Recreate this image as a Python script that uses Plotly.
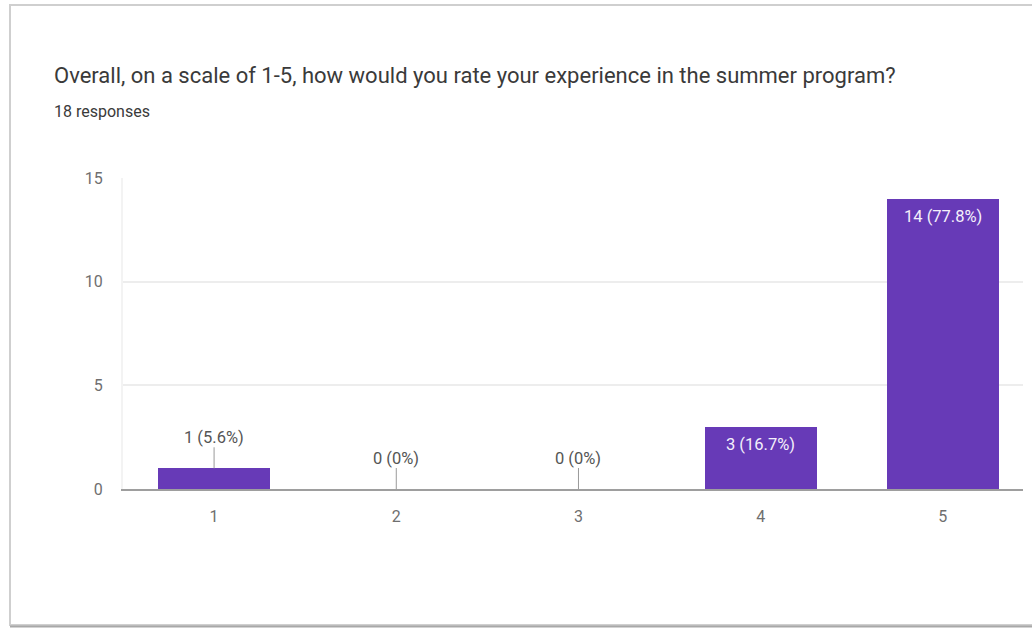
import plotly.graph_objects as go

# Survey question and responses
question = "Overall, on a scale of 1-5, how would you rate your experience in the summer program?"
ratings = [1, 2, 3, 4, 5]
counts = [1, 0, 0, 3, 14]
total = sum(counts)
y_ticks = [0, 5, 10, 15]

W, H = 1032, 628
ML, MR, MT, MB = 123, 9, 178, 139
PW, PH = W - ML - MR, H - MT - MB

BAR = "#673ab7"
FONT = "Roboto"


def px_x(x):
    return (x - ML) / PW


def px_y(y):
    return (H - MB - y) / PH


def label(v):
    pct = round(v / total * 100, 1)
    pct_s = f"{pct:.1f}".rstrip("0").rstrip(".")
    return f"{v} ({pct_s}%)"


fig = go.Figure(
    go.Bar(
        x=ratings,
        y=counts,
        width=0.615,
        marker=dict(color=BAR, line=dict(width=0)),
        hoverinfo="skip",
    )
)

annotations = [
    dict(
        text=question, xref="paper", yref="paper", x=px_x(52), y=px_y(76),
        xanchor="left", yanchor="middle", showarrow=False,
        font=dict(family=FONT, size=22, color="#3a3a3a"),
    ),
    dict(
        text=f"{total} responses", xref="paper", yref="paper", x=px_x(52), y=px_y(112),
        xanchor="left", yanchor="middle", showarrow=False,
        font=dict(family=FONT, size=16, color="#3a3a3a"),
    ),
]

# Value labels: inside the bar when tall enough, otherwise above with a leader line
for r, v in zip(ratings, counts):
    if v >= 3:
        annotations.append(dict(
            text=label(v), x=r, y=v, xref="x", yref="y",
            xanchor="center", yanchor="top", yshift=-6, showarrow=False,
            font=dict(family=FONT, size=16.5, color="#f4f0fb"),
        ))
    else:
        annotations.append(dict(
            text=label(v), x=r, y=v, xref="x", yref="y",
            ax=0, ay=-31, showarrow=True, arrowhead=0, arrowwidth=1,
            arrowcolor="#9a9a9a", borderpad=0, standoff=0,
            font=dict(family=FONT, size=16.5, color="#555555"),
        ))

shapes = [
    # card outline
    dict(type="rect", xref="paper", yref="paper",
         x0=px_x(10), x1=px_x(1045), y0=px_y(625), y1=px_y(5),
         line=dict(color="#cfcfcf", width=2), fillcolor="rgba(0,0,0,0)", layer="below"),
    dict(type="line", xref="paper", yref="paper",
         x0=px_x(10), x1=px_x(1045), y0=px_y(626.5), y1=px_y(626.5),
         line=dict(color="#a8a8a8", width=2)),
]

fig.update_layout(
    width=W, height=H,
    margin=dict(l=ML, r=MR, t=MT, b=MB, pad=0),
    paper_bgcolor="white", plot_bgcolor="white",
    showlegend=False,
    bargap=0,
    annotations=annotations,
    shapes=shapes,
    xaxis=dict(
        range=[0.5, 5.44], tickvals=ratings, ticktext=[str(r) for r in ratings],
        showgrid=False, zeroline=False, showline=True, linecolor="#9e9e9e", linewidth=2,
        ticks="", ticklabelstandoff=12,
        tickfont=dict(family=FONT, size=16, color="#6f6f6f"),
        fixedrange=True,
    ),
    yaxis=dict(
        range=[0, 15], tickvals=y_ticks, ticktext=[str(t) for t in y_ticks],
        showgrid=True, gridcolor="#ededed", gridwidth=1.5, zeroline=False,
        showline=True, linecolor="#f3f3f3", linewidth=2,
        ticks="", ticklabelstandoff=15,
        tickfont=dict(family=FONT, size=16, color="#6f6f6f"),
        fixedrange=True,
    ),
)

fig.write_html("out.html", config={"displayModeBar": False})
